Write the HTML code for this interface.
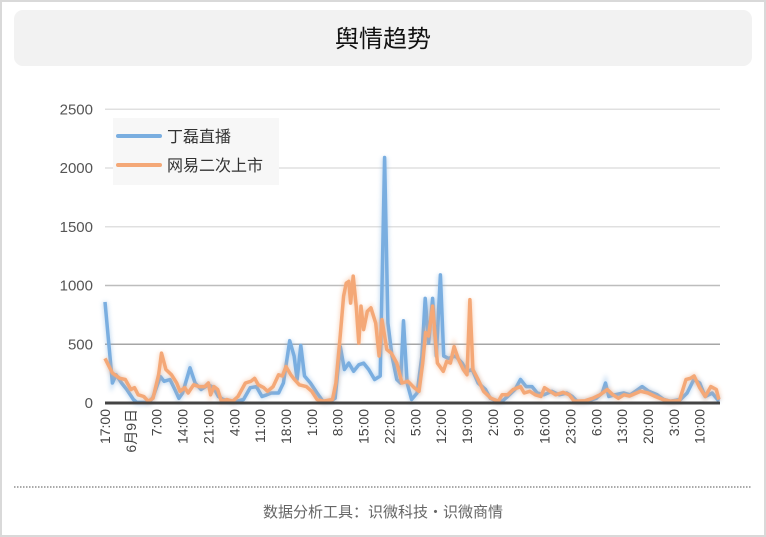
<!DOCTYPE html>
<html><head><meta charset="utf-8"><style>
body{margin:0;background:#fff;}
svg{display:block;font-family:"Liberation Sans","Noto Sans CJK SC",sans-serif;}
</style></head><body>
<svg id="chart" width="766" height="537" viewBox="0 0 766 537" xmlns="http://www.w3.org/2000/svg">
<defs>
<filter id="glow" x="-5%" y="-20%" width="110%" height="140%"><feGaussianBlur stdDeviation="2"/></filter>
</defs>
<rect x="1" y="1" width="764" height="535" fill="#fff" stroke="#d9d9d9" stroke-width="2"/>
<rect x="14" y="10" width="738" height="56" rx="9" fill="#f2f2f2"/>
<text x="383" y="47" text-anchor="middle" font-size="24" fill="#111">舆情趋势</text>
<g id="grid"></g>
<g id="yticks"></g>
<g id="xticks"></g>
<g id="series"></g>
<line x1="105" y1="403" x2="720" y2="403" stroke="#444" stroke-width="3"/>
<g>
<rect x="113" y="118" width="166" height="67" fill="#f7f7f7"/>
<line x1="118" y1="136" x2="160" y2="136" stroke="#7aaee0" stroke-width="4" stroke-linecap="round"/>
<text x="167" y="142" font-size="16" fill="#333">丁磊直播</text>
<line x1="118" y1="165" x2="160" y2="165" stroke="#f4a877" stroke-width="4" stroke-linecap="round"/>
<text x="167" y="171" font-size="16" fill="#333">网易二次上市</text>
</g>
<line x1="14" y1="487" x2="752" y2="487" stroke="#777" stroke-width="1.2" stroke-dasharray="1.5,1.5"/>
<text x="383" y="517" text-anchor="middle" font-size="15" fill="#666">数据分析工具：识微科技・识微商情</text>
</svg>
<script>
const yTicks=[0,500,1000,1500,2000,2500];
const xLabels=["17:00","6月9日","7:00","14:00","21:00","4:00","11:00","18:00","1:00","8:00","15:00","22:00","5:00","12:00","19:00","2:00","9:00","16:00","23:00","6:00","13:00","20:00","3:00","10:00"];
const blueHours=[0,2,3,4.5,6,7.7,8.6,12,13,15,16,17.6,19,20,21,23,24.4,26,28,29.4,30.7,32,34,35.7,37.5,39.3,41,42.5,43.8,45,47,48.3,50,51.2,52,53,54,55.6,57.4,59,61,62.3,63.7,64.8,66,67.3,68.7,70,71.4,73,74.5,75.7,76.6,77.7,79,80,80.8,81.8,83,84.5,85.8,86.7,87.6,88.7,89.7,90.8,91.7,93,94.9,96.7,98,99.4,101,103,104.3,106,107.5,109,111,112.5,114,115.6,117,118.8,121,123,125,126.5,127.8,130.5,133,134.6,135.5,136.4,138,140.4,142.2,143.6,145.4,147.2,149.5,151.3,153,155.8,157.6,159.4,161,162.5,164.4,166.2];
const blueValues=[860,170,240,170,110,30,5,5,50,225,185,200,110,40,85,300,170,115,155,130,55,30,15,15,30,130,140,55,70,85,85,170,530,400,200,490,230,170,85,15,15,40,480,285,340,270,325,340,285,200,230,2090,680,400,200,170,700,170,30,85,400,890,510,890,400,1090,400,380,400,340,270,285,170,115,40,15,15,55,115,200,140,140,85,70,100,70,85,55,15,15,40,85,170,55,70,85,70,100,140,100,70,30,15,30,85,200,170,55,85,15];
const orangeHours=[0,2,4,5.5,7,8,9,10.5,11.7,13,14.5,15.3,16.5,18,19.4,20.3,21.6,22.5,24,25.5,27,28,28.6,29.5,30.5,31.5,33,34.6,36,38,39.5,40.5,41.5,43,44,45.5,47,48,49,50.3,51.3,52.6,54.5,56,57.4,59,61.6,62.5,63.7,64.6,65.3,66,66.5,67.2,68,68.7,69.3,70,71,72,73.3,74.2,75,76.3,77.5,79,80.4,82,83.7,85,86,86.8,87.6,88.7,90,91.6,92.5,93.5,94.5,95.7,97,98,98.8,99.6,101,102.5,104.5,106.5,107.5,109,110.5,112.5,113.5,115,116.5,118,119,120.5,122,124,125.7,127,130,132,134,136,137.5,139,140.5,142,143.5,145,147,149,151,153,155.5,157.3,158.5,159.5,161,162.5,164,165.5,166.2];
const orangeValues=[380,255,210,200,115,130,70,55,15,40,240,425,285,240,170,100,130,85,155,140,140,170,70,140,115,15,30,15,55,170,185,210,155,130,100,140,240,230,310,240,200,155,140,100,30,15,30,170,580,910,1020,1035,850,1080,825,510,825,625,780,810,680,400,710,455,425,340,170,185,130,100,340,600,570,825,340,270,355,340,480,370,285,240,880,285,200,100,40,15,70,70,115,140,85,100,70,55,130,100,70,90,70,15,20,40,70,115,70,40,70,60,80,100,85,55,30,15,20,200,210,230,130,55,140,115,30];

const NS="http://www.w3.org/2000/svg";
const X0=105,X1=720,HMAX=166.5,Y0=403,Y1=109.3,VMAX=2500;
const xs=h=>X0+(h/HMAX)*(X1-X0);
const ys=v=>Y0-(v/VMAX)*(Y0-Y1);
const grid=document.getElementById('grid'),yt=document.getElementById('yticks'),xt=document.getElementById('xticks'),ser=document.getElementById('series');
yTicks.forEach(v=>{
  if(v>0){const l=document.createElementNS(NS,'line');
  
  
  l.setAttribute('x1',X0);l.setAttribute('x2',X1);l.setAttribute('y1',ys(v));l.setAttribute('y2',ys(v));
  l.setAttribute('stroke',v<=500?'#a6a6a6':(v<=1000?'#bdbdbd':'#e0e0e0'));l.setAttribute('stroke-width','1.5');grid.appendChild(l);}
  const t=document.createElementNS(NS,'text');
  
  
  t.setAttribute('x',93);t.setAttribute('y',ys(v)+5);t.setAttribute('text-anchor','end');t.setAttribute('font-size','15');t.setAttribute('fill','#555');t.textContent=v;yt.appendChild(t);
});
xLabels.forEach((s,i)=>{
  const x=xs(i*7);
  const t=document.createElementNS(NS,'text');
  
  
  t.setAttribute('transform','translate('+(x+5)+',409) rotate(-90)');t.setAttribute('text-anchor','end');t.setAttribute('font-size','14');t.setAttribute('fill','#444');t.textContent=s;xt.appendChild(t);
});
function draw(hours,vals,color,name){
  const d=hours.map((h,i)=>(i?'L':'M')+xs(h).toFixed(1)+','+ys(vals[i]).toFixed(1)).join(' ');
  const g=document.createElementNS(NS,'path');
  
  
  g.setAttribute('d',d);g.setAttribute('fill','none');g.setAttribute('stroke',color);g.setAttribute('stroke-width','5');g.setAttribute('opacity','0.45');g.setAttribute('filter','url(#glow)');ser.appendChild(g);
  const p=document.createElementNS(NS,'path');
  
  
  p.setAttribute('d',d);p.setAttribute('fill','none');p.setAttribute('stroke',color);p.setAttribute('stroke-width','3.5');p.setAttribute('stroke-linejoin','round');ser.appendChild(p);
}
draw(blueHours,blueValues,'#7aaee0','series-line-dinglei');
draw(orangeHours,orangeValues,'#f4a877','series-line-netease');
</script>
</body></html>
